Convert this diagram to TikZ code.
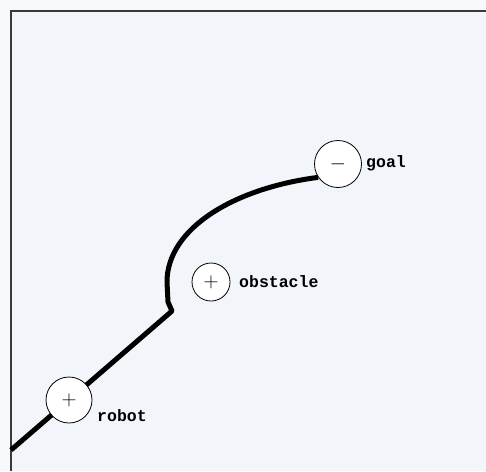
\documentclass[tikz,border=0pt]{standalone}
\usepackage{fontspec}
\setmonofont{Liberation Mono}
\pgfdeclarelayer{paper}
\pgfdeclarelayer{route}
\pgfsetlayers{paper,route,main}
\definecolor{outside}{HTML}{F8F9FC}
\definecolor{field}{HTML}{F2F5FA}
\definecolor{frameline}{HTML}{3A3A3A}
\tikzset{
  site/.style={circle, draw=black, line width=0.8pt, fill=white, inner sep=0pt,
               minimum size=#1, font=\fontsize{20}{20}\selectfont},
  tag/.style={anchor=base west, inner sep=0pt, font=\ttfamily\bfseries\fontsize{16.5}{16.5}\selectfont},
  route/.style={line width=5pt, line join=round},
}
\begin{document}
\begin{tikzpicture}[x=1pt, y=-1pt]
  \useasboundingbox (0,0) rectangle (486,471);

  % field and its frame
  \begin{pgfonlayer}{paper}
    \fill[outside] (0,0) rectangle (486,471);
    \fill[field] (11,11) rectangle (486,471);
    \draw[frameline, line width=2pt] (11,471) -- (11,11) -- (486,11);
  \end{pgfonlayer}

  % robot, obstacle and goal
  \node[site=46pt] (robot) at (69,400) {$+$};
  \node[site=38pt] (obstacle) at (211,282) {$+$};
  \node[site=47pt] (goal) at (338,164) {$-$};

  \node[tag] (robotlabel) at (97,421) {robot};
  \node[tag] (obstaclelabel) at (239,287) {obstacle};
  \node[tag] (goallabel) at (366,167) {goal};

  % planned route
  \coordinate (start) at (11,450);
  \coordinate (kink) at (172,311);
  \coordinate (riseA) at (168,302);
  \coordinate (riseB) at (167,282);
  \begin{pgfonlayer}{route}
    \draw[route] (start) -- (robot.center) -- (kink) -- (riseA) -- (riseB)
      .. controls (167,228) and (235,188) .. (goal.214);
  \end{pgfonlayer}
\end{tikzpicture}
\end{document}
